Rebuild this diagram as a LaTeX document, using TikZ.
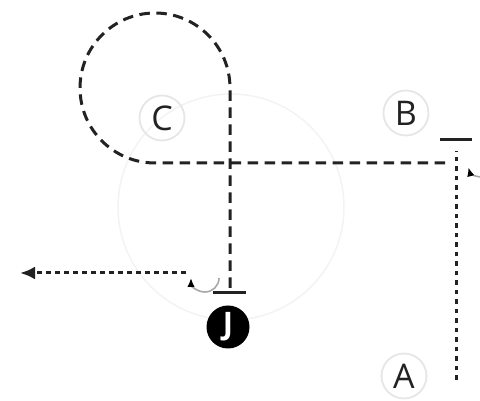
\documentclass[tikz,border=0pt]{standalone}
\usepackage{fontspec}
\setmainfont{Open Sans}
\usetikzlibrary{arrows.meta,positioning,calc}
\definecolor{ink}{HTML}{222222}
\definecolor{ringgray}{HTML}{E6E6E6}
\definecolor{faintgray}{HTML}{F3F3F3}
\definecolor{curlgray}{HTML}{A8A8A8}

\begin{document}
\begin{tikzpicture}[x=1pt,y=1pt,
  player/.style={circle,draw=ringgray,line width=1.8pt,minimum size=45pt,inner sep=0pt,font=\fontsize{34}{36}\selectfont,text=ink},
  cutline/.style={draw=ink,line width=3pt,dash pattern=on 10.5pt off 6.5pt},
  passline/.style={draw=ink,line width=3pt,dash pattern=on 4.5pt off 5pt},
  screenbar/.style={draw=ink,line width=3pt},
  curl/.style={draw=curlgray,line width=1.6pt,-{Latex[length=9pt,width=7.5pt,color=black]}}]
\useasboundingbox (0,0) rectangle (480,401);
\clip (0,0) rectangle (480,401);
% faint court circle
\draw[faintgray,line width=1.5pt] (231,194) circle[radius=113];
% players
\node[player] (C) at (162,283) {C};
\node[player] (B) at (406,288) {B};
\node[player] (A) at (404,25) {A};
\node[circle,fill=black,minimum size=43pt,inner sep=0pt,text=white,font=\fontsize{31}{34}\selectfont\bfseries] (J) at (228,74) {J};
% path ends
\coordinate (cutstart) at (230,113);
\coordinate (cutend) at (448,238);
\coordinate (jbar) at (230,108);
\coordinate (bbar) at (456,261);
\coordinate (astart) at (456,21);
\coordinate (aend) at (456,250);
\coordinate (passstart) at (186,128);
\coordinate (passend) at (20,128);
% cut around C and across to B
\draw[cutline] (cutstart) -- (230,313) arc[start angle=0,end angle=270,radius=75] -- (cutend);
\draw[screenbar] ($(jbar)+(-17,0)$) -- ($(jbar)+(16,0)$);
% A up to the screen at B
\draw[passline] (astart) -- (aend);
\draw[screenbar] ($(bbar)+(-16,0)$) -- ($(bbar)+(16,0)$);
% pass out to the left
\draw[passline,dash pattern=on 5pt off 4pt,-{Latex[length=15pt,width=13pt]}] (passstart) -- (passend);
% curls
\draw[curl] (219,123) arc[start angle=0,end angle=-180,radius=14];
\draw[curl] (481,224) arc[start angle=270,end angle=195,radius=13];
\end{tikzpicture}
\end{document}
